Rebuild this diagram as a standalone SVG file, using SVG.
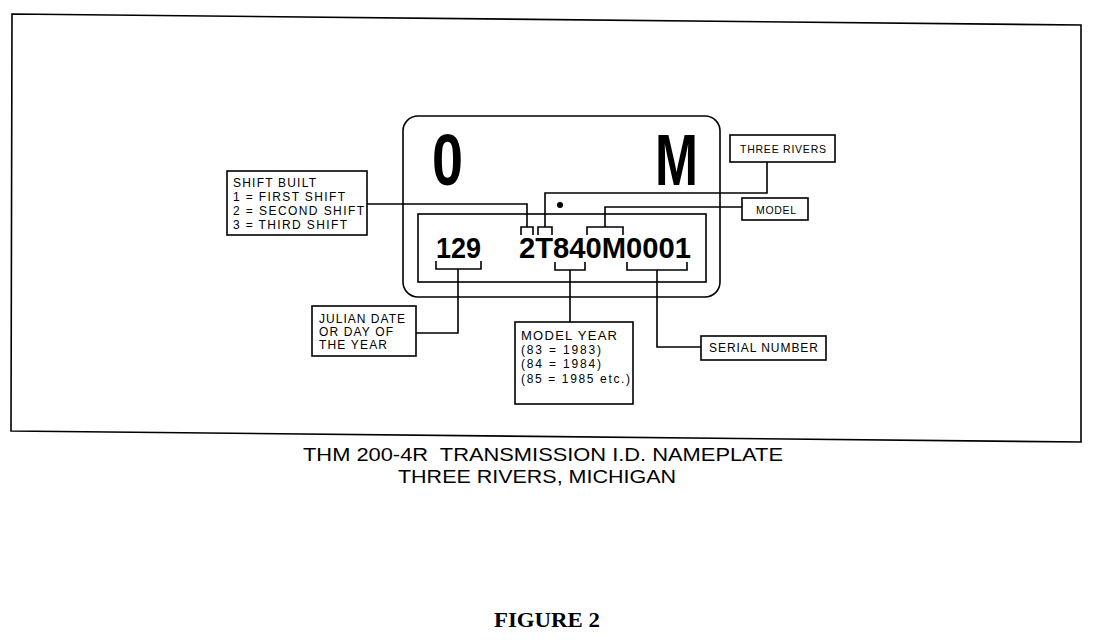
<svg xmlns="http://www.w3.org/2000/svg" width="1104" height="640" viewBox="0 0 1104 640">
<style>
.ln{fill:none;stroke:#000;stroke-width:1.6}
.bx{fill:#fff;stroke:#000;stroke-width:1.6}
.t{font-family:"Liberation Sans",Arial,sans-serif;font-size:12px;fill:#000}
.s{font-size:10.5px}
.l{font-size:13px}
.big{font-family:"Liberation Sans",Arial,sans-serif;font-weight:bold;fill:#000}
.cap{font-family:"Liberation Sans",Arial,sans-serif;font-size:19px;fill:#000}
</style>
<rect width="1104" height="640" fill="#fff"/>
<polygon id="frame" class="ln" stroke-width="2" points="12,14 1081,25 1081,442 11,431"/>
<g id="plate">
<rect class="ln" x="403" y="116" width="317" height="181" rx="15"/>
<rect class="ln" x="418" y="214" width="288" height="68"/>
<text class="big" x="432" y="185" font-size="72" textLength="31" lengthAdjust="spacingAndGlyphs">0</text>
<text class="big" x="655" y="185" font-size="72" textLength="43" lengthAdjust="spacingAndGlyphs">M</text>
<circle cx="560" cy="205" r="3" fill="#000"/>
<text class="big" x="436" y="258" font-size="30" textLength="45" lengthAdjust="spacingAndGlyphs">129</text>
<text class="big" x="519" y="258" font-size="30" textLength="172" lengthAdjust="spacingAndGlyphs">2T840M0001</text>
</g>
<g id="connectors">
<path class="ln" d="M521,235 V227 H533 V235"/>
<path class="ln" d="M538,235 V227 H552 V235"/>
<path class="ln" d="M587,235 V227 H623 V235"/>
<path class="ln" d="M436,261 V269 H481 V261"/>
<path class="ln" d="M555,262 V270 H585 V262"/>
<path class="ln" d="M627,262 V270 H687 V262"/>
<path class="ln" d="M367,204 H527 V227"/>
<path class="ln" d="M545,227 V193 H767 V162"/>
<path class="ln" d="M605,227 V207 H742"/>
<path class="ln" d="M458,269 V333 H416"/>
<path class="ln" d="M570,270 V322"/>
<path class="ln" d="M657,270 V347 H701"/>
</g>
<g id="shift">
<rect class="bx" x="227" y="171" width="140" height="64"/>
<text class="t" x="233" y="187" textLength="83" lengthAdjust="spacing">SHIFT BUILT</text>
<text class="t" x="233" y="201" textLength="112" lengthAdjust="spacing">1 = FIRST SHIFT</text>
<text class="t" x="233" y="215" textLength="131" lengthAdjust="spacing">2 = SECOND SHIFT</text>
<text class="t" x="233" y="229" textLength="114" lengthAdjust="spacing">3 = THIRD SHIFT</text>
</g>
<g id="julian">
<rect class="bx" x="312" y="306" width="104" height="50"/>
<text class="t" x="319" y="323" textLength="86" lengthAdjust="spacing">JULIAN DATE</text>
<text class="t" x="319" y="336" textLength="74" lengthAdjust="spacing">OR DAY OF</text>
<text class="t" x="319" y="349" textLength="68" lengthAdjust="spacing">THE YEAR</text>
</g>
<g id="modelyear">
<rect class="bx" x="515" y="322" width="118" height="82"/>
<text class="t l" x="521" y="340" textLength="96" lengthAdjust="spacing">MODEL YEAR</text>
<text class="t" x="521" y="354" textLength="80" lengthAdjust="spacing">(83 = 1983)</text>
<text class="t" x="521" y="368" textLength="80" lengthAdjust="spacing">(84 = 1984)</text>
<text class="t" x="521" y="383" textLength="109" lengthAdjust="spacing">(85 = 1985 etc.)</text>
</g>
<g id="threerivers">
<rect class="bx" x="730" y="135" width="105" height="27"/>
<text class="t s" x="740" y="153" textLength="86" lengthAdjust="spacing">THREE RIVERS</text>
</g>
<g id="model">
<rect class="bx" x="742" y="198" width="66" height="22"/>
<text class="t s" x="756" y="214" textLength="40" lengthAdjust="spacing">MODEL</text>
</g>
<g id="serial">
<rect class="bx" x="701" y="336" width="125" height="24"/>
<text class="t" x="709" y="352" textLength="109" lengthAdjust="spacing">SERIAL NUMBER</text>
</g>
<g id="caption">
<text class="cap" x="303" y="461" textLength="480" lengthAdjust="spacingAndGlyphs" xml:space="preserve">THM 200-4R  TRANSMISSION I.D. NAMEPLATE</text>
<text class="cap" x="398" y="483" textLength="278" lengthAdjust="spacingAndGlyphs">THREE RIVERS, MICHIGAN</text>
<text x="494" y="627" font-family="'Liberation Serif',serif" font-weight="bold" font-size="22" textLength="106" lengthAdjust="spacingAndGlyphs">FIGURE 2</text>
</g>
</svg>
